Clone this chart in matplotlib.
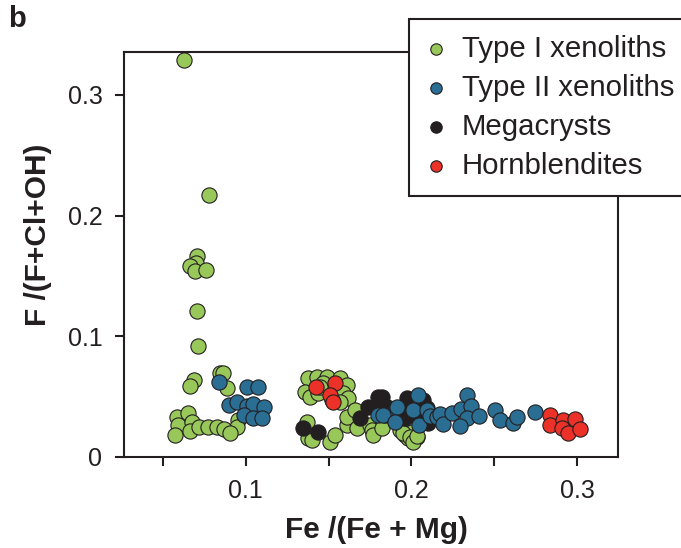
import matplotlib
matplotlib.use("Agg")
import matplotlib.pyplot as plt

plt.rcParams['font.family'] = ['Liberation Sans', 'DejaVu Sans']

# Type I xenoliths
type1_x = [0.0629, 0.078, 0.0707, 0.0699, 0.0663, 0.0693, 0.076, 0.0703, 0.071,
           0.0687, 0.0663, 0.0844, 0.086, 0.0884, 0.0955, 0.0945, 0.0583, 0.0653,
           0.0593, 0.0673, 0.0573, 0.0663, 0.0714, 0.0774, 0.0824, 0.0865, 0.0905,
           0.1377, 0.1428, 0.1489, 0.1569, 0.1609, 0.1357, 0.1388, 0.1438, 0.1468,
           0.1549, 0.1589, 0.1619, 0.1569, 0.1519, 0.1448,
           0.1368, 0.1377, 0.1398, 0.1508, 0.1539, 0.1609, 0.1609, 0.1659, 0.167,
           0.175, 0.176, 0.177, 0.182,
           0.1931, 0.1961, 0.1981, 0.2012, 0.2032, 0.2002, 0.1951, 0.1991, 0.2012, 0.2032]
type1_y = [0.329, 0.217, 0.1668, 0.161, 0.158, 0.154, 0.155, 0.121, 0.092,
           0.064, 0.0588, 0.0698, 0.0698, 0.0574, 0.0307, 0.0251, 0.0334, 0.0362,
           0.0265, 0.0293, 0.0182, 0.0218, 0.0246, 0.0246, 0.0251, 0.0229, 0.0201,
           0.0652, 0.0665, 0.0665, 0.0652, 0.0597, 0.0541, 0.05, 0.0528, 0.0611,
           0.0541, 0.0528, 0.0486, 0.0458, 0.0472, 0.0582,
           0.0292, 0.0155, 0.0141, 0.0127, 0.0182, 0.0265, 0.0334, 0.0389, 0.0238,
           0.0265, 0.0224, 0.0182, 0.0238,
           0.0224, 0.0182, 0.0155, 0.0141, 0.0168, 0.021, 0.0196, 0.0168, 0.0127, 0.0174]

# Type II xenoliths
type2_x = [0.084, 0.1005, 0.1076, 0.090, 0.0949, 0.1005, 0.1042, 0.111, 0.0989,
           0.1046, 0.1096,
           0.18, 0.184, 0.183, 0.1915, 0.1901, 0.2012, 0.2042, 0.2048, 0.2092,
           0.2112, 0.2153, 0.2173, 0.2193, 0.2243, 0.2298, 0.2338, 0.2358, 0.2338,
           0.2294, 0.241, 0.2505, 0.2535, 0.2615, 0.2636, 0.2746]
type2_y = [0.0624, 0.0583, 0.0583, 0.0431, 0.0458, 0.0422, 0.0439, 0.0412, 0.0348,
           0.032, 0.032,
           0.0348, 0.0348, 0.0348, 0.0417, 0.0292, 0.0389, 0.0514, 0.0265, 0.0389,
           0.034, 0.0334, 0.0356, 0.0273, 0.0367, 0.0395, 0.0514, 0.0423, 0.032,
           0.0257, 0.034, 0.0389, 0.0306, 0.0284, 0.0329, 0.0376]

# Megacrysts
mega_x = [0.1347, 0.1438, 0.169, 0.174, 0.18, 0.179, 0.185, 0.182, 0.1931, 0.1972,
          0.1961, 0.2032, 0.2082, 0.2102, 0.2072, 0.2092]
mega_y = [0.0238, 0.021, 0.032, 0.0417, 0.05, 0.0403, 0.0417, 0.05, 0.0403, 0.0486,
          0.032, 0.0334, 0.0417, 0.0279, 0.0472, 0.0403]

# Hornblendites
horn_x = [0.1424, 0.1539, 0.1509, 0.1525, 0.2837, 0.2837, 0.2914, 0.2988, 0.2908,
          0.2948, 0.3018]
horn_y = [0.0582, 0.0611, 0.0514, 0.0458, 0.0348, 0.0265, 0.0307, 0.0312, 0.0238,
          0.0196, 0.0229]

x_ticks = [0.05, 0.1, 0.15, 0.2, 0.25, 0.3]
x_tick_labels = ["", "0.1", "", "0.2", "", "0.3"]
y_ticks = [0, 0.1, 0.2, 0.3]
y_tick_labels = ["0", "0.1", "0.2", "0.3"]

ink = "#231f20"

fig = plt.figure(figsize=(6.81, 5.48), dpi=100)
ax = fig.add_axes([0.1821, 0.1661, 0.7254, 0.739])

style = dict(s=120, edgecolors=ink, linewidths=0.8)
ax.scatter(type1_x, type1_y, color="#98c75a", zorder=2, label="Type I xenoliths", **style)
ax.scatter(mega_x, mega_y, color="#231f20", zorder=3, label="Megacrysts", **style)
ax.scatter(type2_x, type2_y, color="#2a6e94", zorder=4, label="Type II xenoliths", **style)
ax.scatter(horn_x, horn_y, color="#ec3228", zorder=5, label="Hornblendites", **style)

ax.set_xlim(0.0264, 0.3248)
ax.set_ylim(0, 0.3355)

ax.set_xticks(x_ticks)
ax.set_xticklabels(x_tick_labels)
ax.set_yticks(y_ticks)
ax.set_yticklabels(y_tick_labels)
ax.tick_params(direction='out', length=6.5, width=1.5, color=ink,
               labelsize=18, labelcolor=ink, pad=9)

for sp in ax.spines.values():
    sp.set_linewidth(1.5)
    sp.set_color(ink)

ax.set_xlabel("Fe /(Fe + Mg)", fontsize=21.5, fontweight='bold', color=ink)
ax.xaxis.set_label_coords(0.51, -0.145)
ax.set_ylabel("F /(F+Cl+OH)", fontsize=21.5, fontweight='bold', color=ink)
ax.yaxis.set_label_coords(-0.146, 0.548)

fig.text(0.012, 0.95, "b", fontsize=21, fontweight='bold', color=ink)

handles, labels = ax.get_legend_handles_labels()
order = [0, 2, 1, 3]
leg = ax.legend([handles[i] for i in order], [labels[i] for i in order],
                loc='upper left', bbox_to_anchor=(409 / 681, 1 - 19 / 548),
                bbox_transform=fig.transFigure, borderaxespad=0,
                fontsize=21.2, markerscale=0.75, fancybox=False, framealpha=1,
                edgecolor=ink, borderpad=0.55, labelspacing=0.37,
                handlelength=0.7, handletextpad=0.55)
leg.get_frame().set_linewidth(1.5)
for t in leg.get_texts():
    t.set_color(ink)

fig.savefig("out.png", dpi=100)
